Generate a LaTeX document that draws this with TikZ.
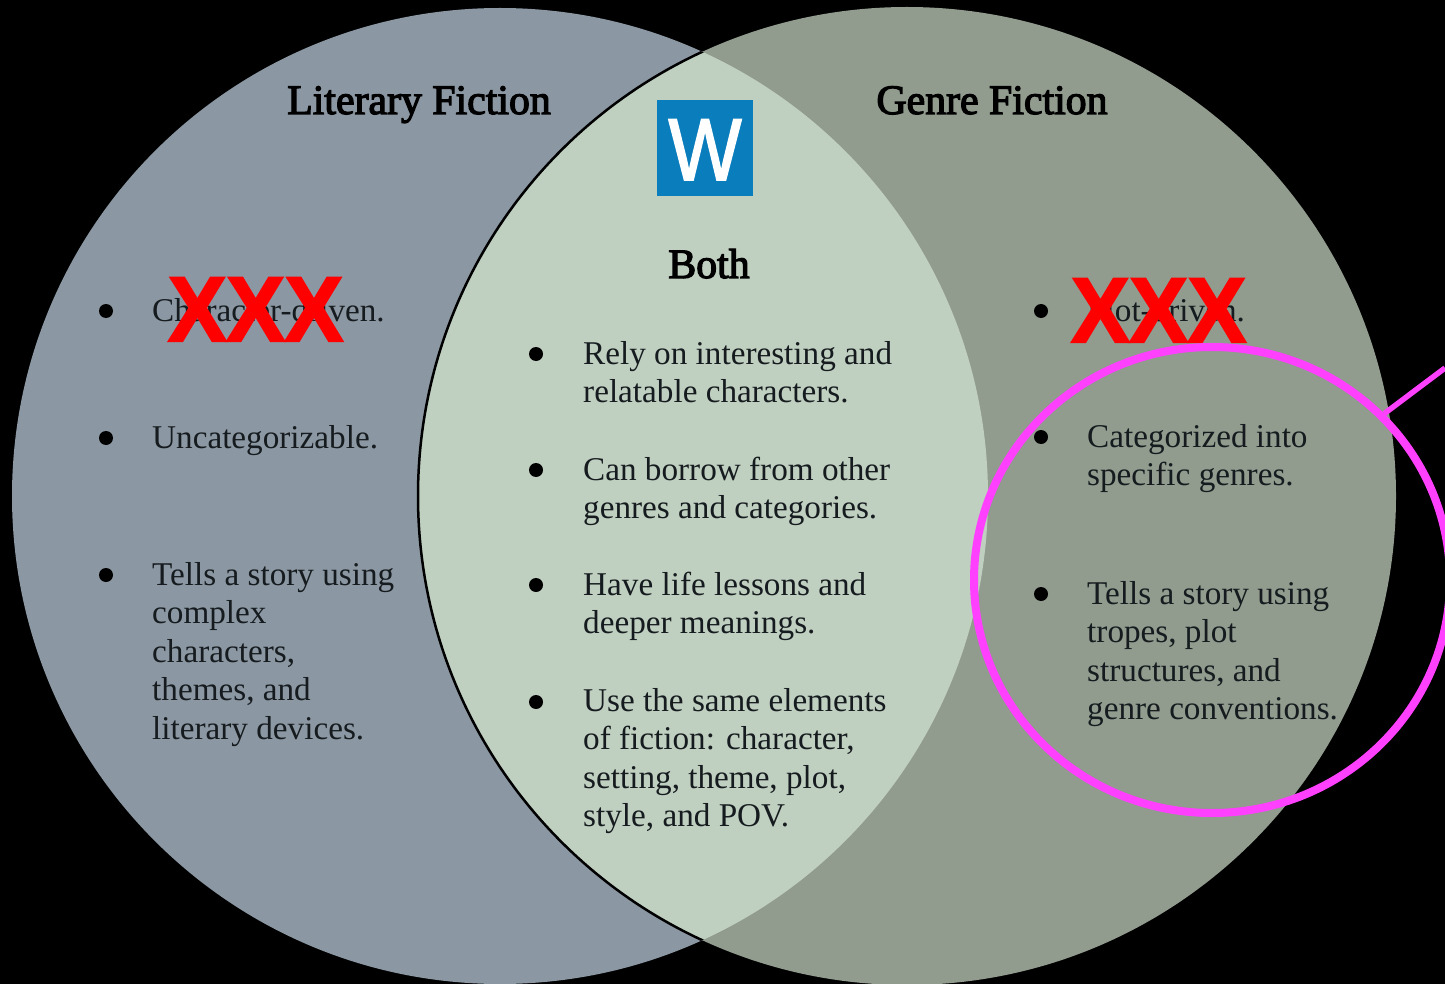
\documentclass[tikz,border=0pt]{standalone}
\usepackage{fontspec}
\usetikzlibrary{shapes.geometric}
\setmainfont{Liberation Serif}
\newfontfamily\markfont[FakeBold=2.5]{Liberation Sans Bold}
\newfontfamily\logofont[FakeBold=2]{Liberation Sans}
\newfontfamily\headfont[FakeBold=3]{Liberation Serif}
\definecolor{bgblack}{HTML}{000000}
\definecolor{leftfill}{HTML}{8B97A2}
\definecolor{rightfill}{HTML}{919B8E}
\definecolor{bothfill}{HTML}{BFCFC0}
\definecolor{inktext}{HTML}{151B1E}
\definecolor{ringpink}{HTML}{FF40FF}
\definecolor{logoblue}{HTML}{0A7DBD}
\definecolor{markred}{HTML}{FF0000}
\tikzset{
  x=1pt,y=-1pt,
  bodytext/.style={anchor=north west,inner sep=0pt,align=left,text=inktext,
    font=\fontsize{33.2}{38.5}\selectfont},
  headtext/.style={anchor=base,inner sep=0pt,text=black,
    font=\fontsize{41.8}{46}\headfont},
  dotmark/.style={circle,fill=black,inner sep=0pt,minimum size=14pt},
  xmark/.style={anchor=base west,inner sep=0pt,text=markred,xscale=.95,
    font=\fontsize{92}{94}\markfont},
}
\begin{document}
\begin{tikzpicture}
\useasboundingbox (0,0) rectangle (1445,984);
\clip (0,0) rectangle (1445,984);
\fill[bgblack] (0,0) rectangle (1445,984);
\fill[leftfill] (500,496) circle[radius=488];
\fill[rightfill] (907,496) circle[radius=489];
\begin{scope}
  \clip (500,496) circle[radius=488];
  \fill[bothfill] (907,496) circle[radius=489];
  \draw[black,line width=2.5pt] (907,496) circle[radius=489];
\end{scope}
% headings
\node[headtext] (hl) at (419,114) {Literary Fiction};
\node[headtext] (hr) at (992,114) {Genre Fiction};
\node[headtext] (hb) at (709,278) {Both};
% logo
\node[fill=logoblue,minimum size=96pt,inner sep=0pt] (logo) at (705,148) {};
\node[anchor=base,inner sep=0pt,text=white,font=\fontsize{88}{89}\logofont,xscale=.88] (logow) at (705,180) {W};
% left column
\node[dotmark] (l1) at (106,311) {};
\node[dotmark] (l2) at (106,438) {};
\node[dotmark] (l3) at (106,575) {};
\node[bodytext] (lt1) at (152,294) {\strut Character-driven.};
\node[bodytext] (lt2) at (152,421) {\strut Uncategorizable.};
\node[bodytext] (lt3) at (152,558) {\strut Tells a story using\\complex\\characters,\\themes, and\\literary devices.};
% middle column
\node[dotmark] (m1) at (536,354) {};
\node[dotmark] (m2) at (536,470) {};
\node[dotmark] (m3) at (536,585) {};
\node[dotmark] (m4) at (536,702) {};
\node[bodytext] (mt1) at (583,337) {\strut Rely on interesting and\\relatable characters.};
\node[bodytext] (mt2) at (583,453) {\strut Can borrow from other\\genres and categories.};
\node[bodytext] (mt3) at (583,568) {\strut Have life lessons and\\deeper meanings.};
\node[bodytext] (mt4) at (583,684) {\strut Use the same elements\\of fiction: character,\\setting, theme, plot,\\style, and POV.};
% right column
\node[dotmark] (r1) at (1041,311) {};
\node[dotmark] (r2) at (1041,437) {};
\node[dotmark] (r3) at (1041,594) {};
\node[bodytext] (rt1) at (1087,294) {\strut Plot-driven.};
\node[bodytext] (rt2) at (1087,420) {\strut Categorized into\\specific genres.};
\node[bodytext] (rt3) at (1087,577) {\strut Tells a story using\\tropes, plot\\structures, and\\genre conventions.};
% red marks
\node[xmark] (xl) at (168,341) {XXX};
\node[xmark] (xr) at (1071,342) {XXX};
% ring and its line
\node[ellipse,draw=ringpink,line width=8pt,minimum width=476pt,minimum height=466pt,inner sep=0pt] (ring) at (1212,580) {};
\coordinate (ringend) at (1445,368);
\draw[ringpink,line width=5.5pt] (ring.44) -- (ringend);
\end{tikzpicture}
\end{document}
